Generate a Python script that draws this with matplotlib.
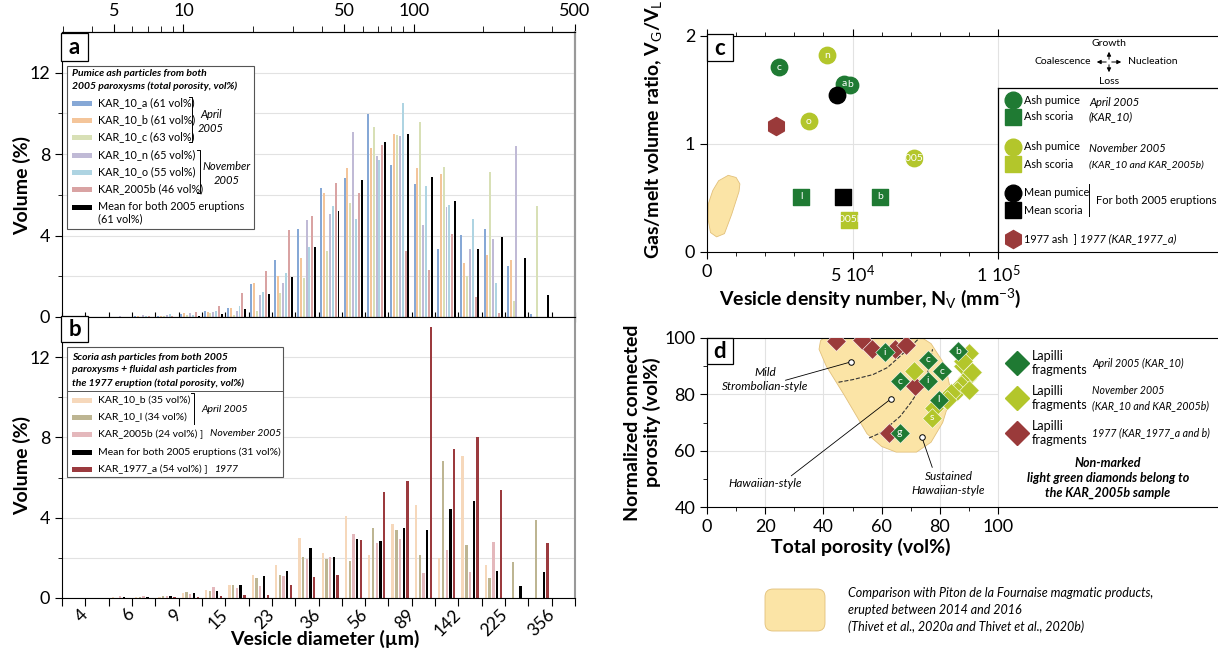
import numpy as np
import matplotlib.pyplot as plt
from matplotlib.patches import Rectangle, Polygon, FancyBboxPatch, FancyArrowPatch
from matplotlib.lines import Line2D
from matplotlib.transforms import Affine2D
from matplotlib.ticker import FixedLocator, NullFormatter

plt.rcParams['font.family'] = ['Lato', 'DejaVu Sans']
plt.rcParams['mathtext.fontset'] = 'custom'
plt.rcParams['mathtext.rm'] = 'Lato'
plt.rcParams['mathtext.it'] = 'Lato:italic'
plt.rcParams['mathtext.bf'] = 'Lato:bold'
plt.rcParams['xtick.major.size'] = 5
plt.rcParams['ytick.major.size'] = 5
plt.rcParams['xtick.minor.size'] = 3
plt.rcParams['ytick.minor.size'] = 3

# ---------------- data ----------------
n_bins = 21
diam_labels = ['4', '6', '9', '15', '23', '36', '56', '89', '142', '225', '356']
top_ticks = [5, 10, 50, 100, 500]
top_minor = [3, 4, 6, 7, 8, 9, 20, 30, 40, 60, 70, 80, 90, 200, 300, 400]

# panel a - pumice ash particles (volume %)
a_names = ['KAR_10_a (61 vol%)', 'KAR_10_b (61 vol%)', 'KAR_10_c (63 vol%)',
           'KAR_10_n (65 vol%)', 'KAR_10_o (55 vol%)', 'KAR_2005b (46 vol%)',
           'Mean for both 2005 eruptions']
kar10_a = [0, 0, 0.02, 0.03, 0.05, 0.15, 0.3, 0.45, 1.6, 2.8, 4.3, 6.35, 6.85, 9.95, 7.45, 6.55, 3.35, 4.05, 4.3, 2.5, 0.15]
kar10_b = [0, 0, 0.02, 0.03, 0.05, 0.2, 0.25, 0.45, 1.65, 2.0, 2.9, 6.1, 7.3, 8.3, 9.0, 7.3, 7.0, 2.65, 3.05, 2.8, 0]
kar10_c = [0, 0, 0, 0.02, 0.03, 0.1, 0.2, 0.1, 0.3, 1.2, 1.9, 3.25, 5.6, 9.35, 8.95, 9.6, 7.35, 2.0, 7.1, 0.8, 5.45]
kar10_n = [0, 0.02, 0.03, 0.08, 0.1, 0.2, 0.25, 0.3, 1.1, 1.65, 4.75, 5.05, 9.1, 7.9, 8.9, 4.5, 5.4, 3.35, 3.85, 8.4, 0]
kar10_o = [0, 0, 0.02, 0.03, 0.15, 0.1, 0.3, 0.55, 1.25, 2.15, 3.45, 5.45, 4.8, 7.7, 10.5, 6.45, 5.5, 4.8, 1.65, 0, 0]
kar2005b_p = [0, 0, 0, 0.03, 0.05, 0.25, 0.55, 1.2, 2.28, 4.25, 4.95, 6.6, 6.1, 8.45, 3.25, 2.3, 4.1, 1.0, 0.2, 0, 0]
mean_pum = [0, 0, 0, 0, 0.02, 0.05, 0.15, 0.4, 1.15, 1.95, 3.45, 5.2, 6.75, 8.6, 9.0, 6.9, 5.7, 3.35, 3.95, 2.9, 1.1]
a_values = [kar10_a, kar10_b, kar10_c, kar10_n, kar10_o, kar2005b_p, mean_pum]
a_colors = ['#86a8d6', '#f4c59a', '#d8e0b6', '#c0bad6', '#aed4e2', '#d9a3a3', '#000000']

# panel b - scoria / fluidal ash particles (volume %)
b_names = ['KAR_10_b (35 vol%)', 'KAR_10_l (34 vol%)', 'KAR_2005b (24 vol%) ]',
           'Mean for both 2005 eruptions (31 vol%)', 'KAR_1977_a (54 vol%) ]']
kar10_b_s = [0, 0.02, 0.03, 0.05, 0.05, 0.25, 0.4, 0.63, 1.15, 1.65, 3.0, 2.25, 4.1, 2.15, 3.7, 4.65, 2.0, 7.05, 1.65, 0, 0]
kar10_l = [0, 0, 0.02, 0.05, 0.1, 0.28, 0.33, 0.63, 1.0, 1.15, 2.05, 1.95, 1.85, 3.5, 3.4, 2.15, 6.85, 2.65, 1.0, 1.8, 3.9]
kar2005b_s = [0, 0.02, 0.08, 0.08, 0.12, 0.2, 0.53, 0.48, 0.62, 1.08, 1.95, 2.05, 3.2, 2.75, 2.95, 1.25, 2.4, 1.3, 2.8, 0, 0]
mean_sco = [0, 0, 0.03, 0.05, 0.1, 0.25, 0.36, 0.65, 1.08, 1.35, 2.5, 2.05, 2.95, 2.85, 3.5, 3.4, 4.45, 4.85, 1.35, 0.6, 1.3]
kar1977_a = [0, 0, 0, 0.02, 0.05, 0.05, 0.1, 0.15, 0.15, 0.65, 1.05, 1.15, 2.9, 5.3, 5.85, 13.5, 7.4, 8.0, 5.4, 0, 2.75]
b_values = [kar10_b_s, kar10_l, kar2005b_s, mean_sco, kar1977_a]
b_colors = ['#f6d8bb', '#bdb592', '#e4b8bc', '#000000', '#9b3a3e']

# panel c - Nv vs Vg/Vl
c_pum_apr_x = [2.49e4, 4.93e4, 4.71e4]
c_pum_apr_y = [1.71, 1.55, 1.56]
c_pum_apr_lab = ['c', 'b', 'a']
c_sco_apr_x = [3.24e4, 5.96e4]
c_sco_apr_y = [0.51, 0.51]
c_sco_apr_lab = ['l', 'b']
c_pum_nov_x = [4.13e4, 3.49e4, 7.11e4]
c_pum_nov_y = [1.82, 1.21, 0.87]
c_pum_nov_lab = ['n', 'o', '2005b']
c_sco_nov_x = [4.87e4]
c_sco_nov_y = [0.30]
c_sco_nov_lab = ['2005b']
c_mean_pum_x, c_mean_pum_y = [4.47e4], [1.45]
c_mean_sco_x, c_mean_sco_y = [4.69e4], [0.51]
c_1977_x, c_1977_y = [2.37e4], [1.17]
pdf_c_x = [0.73e4, 1.0e4, 1.13e4, 1.1e4, 0.85e4, 0.6e4, 0.33e4, 0.12e4, 0.04e4, 0.05e4, 0.2e4, 0.4e4]
pdf_c_y = [0.71, 0.69, 0.63, 0.56, 0.35, 0.17, 0.14, 0.18, 0.30, 0.45, 0.57, 0.66]

# panel d - total porosity vs normalized connected porosity
d_apr_x = [61.1, 75.8, 80.9, 66.4, 75.8, 79.6, 86.3, 66.2]
d_apr_y = [95.0, 92.3, 88.2, 84.6, 84.9, 78.1, 95.3, 66.3]
d_apr_lab = ['i', 'c', 'c', 'c', 'i', 'l', 'b', 'g']
d_nov_x = [71.1, 89.9, 87.9, 89.3, 87.2, 85.9, 89.9, 83.9, 82.6, 77.9, 91.0, 88.0, 77.4]
d_nov_y = [88.2, 94.7, 89.9, 85.8, 83.4, 81.1, 81.7, 80.5, 78.1, 75.1, 88.0, 92.0, 71.6]
d_nov_lab = [''] * 12 + ['s']
d_1977_x = [44.3, 53.3, 56.6, 64.7, 68.5, 71.5, 62.4]
d_1977_y = [98.8, 99.2, 96.1, 96.1, 97.6, 82.8, 66.3]
pdf_d_x = [40, 74, 77, 82, 84, 81, 77, 72, 65, 60, 55, 47, 41, 38.5, 39]
pdf_d_y = [100, 100, 98, 90, 80, 70, 63, 59.5, 59.5, 61.5, 66, 80, 90, 96, 99]
dash1_x = [45.2, 50, 57, 62, 65, 69, 73]
dash1_y = [84.3, 85.2, 87, 89.5, 92.3, 96, 100]
dash2_x = [55.7, 60, 66.4, 70, 73, 75.5, 76.5, 77.5]
dash2_y = [64.5, 66.5, 72.2, 77, 81.7, 86, 91, 96]

dark_green = '#1f7a33'
yel_green = '#b3c62b'
red_1977 = '#9a3a3a'
pdf_fill = '#fbe4a6'
pdf_edge = '#e2c07a'
grid_col = '#e2e2e2'

W, H = 1218, 660
fig = plt.figure(figsize=(W / 100, H / 100), dpi=100)
# transform in reference pixels (x right, y down)
REF = Affine2D().scale(1 / W, -1 / H).translate(0, 1) + fig.transFigure


def px_axes(l, t, r, b):
    return fig.add_axes([l / W, 1 - b / H, (r - l) / W, (b - t) / H])


def panel_tag(l, t, r, b, s):
    fig.patches.append(Rectangle((l, t), r - l, b - t, transform=REF, fc='white',
                                 ec='black', lw=0.9, zorder=10))
    fig.text((l + r) / 2, (t + b) / 2 + 1, s, transform=REF, ha='center', va='center',
             fontsize=16, fontweight='bold', zorder=11)


def ref_text(x, y, s, **kw):
    kw.setdefault('fontsize', 7.5)
    kw.setdefault('va', 'center')
    fig.text(x, y, s, transform=REF, **kw)


def ref_line(xs, ys, **kw):
    kw.setdefault('color', 'black')
    kw.setdefault('lw', 0.7)
    fig.lines.append(Line2D(xs, ys, transform=REF, **kw))


# ---------------- panel a ----------------
axa = px_axes(62, 32, 575, 317)
pos = np.arange(n_bins)
for i, (vals, col) in enumerate(zip(a_values, a_colors)):
    axa.bar(pos + 0.12 + i * 0.123, vals, width=0.085, color=col, zorder=2)
axa.set_xlim(0, 22)
axa.set_ylim(0, 14)
axa.set_yticks([0, 4, 8, 12])
axa.set_yticks([2, 6, 10], minor=True)
axa.yaxis.grid(True, which='both', color=grid_col, lw=0.8)
axa.set_axisbelow(True)
axa.set_xticks(np.arange(23))
axa.set_xticklabels([])
axa.tick_params(axis='x', direction='inout', length=7)
axa.tick_params(axis='y', labelsize=13)
axa.set_ylabel('Volume (%)', fontsize=14, fontweight='bold')
axa.yaxis.set_label_coords(-0.06, 0.46)
axa.spines['right'].set_color('#999999')
axa.spines['right'].set_linewidth(1.5)

axt = axa.twiny()
axt.set_xscale('log')
axt.set_xlim(2.97, 502)
axt.xaxis.set_major_locator(FixedLocator(top_ticks))
axt.set_xticklabels([str(t) for t in top_ticks])
axt.xaxis.set_minor_locator(FixedLocator(top_minor))
axt.xaxis.set_minor_formatter(NullFormatter())
axt.tick_params(axis='x', which='major', labelsize=13, length=6)
axt.tick_params(axis='x', which='minor', length=4)
for s in ['left', 'bottom']:
    axt.spines[s].set_visible(False)
axt.spines['right'].set_color('#999999')
axt.spines['right'].set_linewidth(1.5)

# legend a
fig.patches.append(Rectangle((67, 66), 187, 163, transform=REF, fc='white', ec='#555555', lw=0.8, zorder=5))
ref_text(72, 73, 'Pumice ash particles from both', style='italic', fontweight='bold', zorder=6)
ref_text(72, 86, '2005 paroxysms (total porosity, vol%)', style='italic', fontweight='bold', zorder=6)
a_leg_y = [103, 120, 137, 155, 172, 189, 207]
for yy, name, col in zip(a_leg_y, a_names, a_colors):
    fig.patches.append(Rectangle((72, yy - 2.5), 20, 5, transform=REF, fc=col, ec='none', zorder=6))
    ref_text(98, yy, name, fontsize=7.8, zorder=6)
ref_text(98, 219, '(61 vol%)', fontsize=7.8, zorder=6)
ref_line([189, 192, 192, 189], [97, 97, 142, 142], zorder=6)
ref_text(211, 114, 'April', style='italic', ha='center', fontsize=8, zorder=6)
ref_text(211, 128, '2005', style='italic', ha='center', fontsize=8, zorder=6)
ref_line([197, 200, 200, 197], [150, 150, 193, 193], zorder=6)
ref_text(227, 166, 'November', style='italic', ha='center', fontsize=8, zorder=6)
ref_text(227, 180, '2005', style='italic', ha='center', fontsize=8, zorder=6)
panel_tag(61, 33, 88, 61, 'a')

# ---------------- panel b ----------------
axb = px_axes(62, 317, 575, 598)
for i, (vals, col) in enumerate(zip(b_values, b_colors)):
    axb.bar(pos + 0.18 + i * 0.16, vals, width=0.1, color=col, zorder=2)
axb.set_xlim(0, 22)
axb.set_ylim(0, 14)
axb.set_yticks([0, 4, 8, 12])
axb.set_yticks([2, 6, 10], minor=True)
axb.yaxis.grid(True, which='both', color=grid_col, lw=0.8)
axb.set_axisbelow(True)
b_tick_labels = [''] * 23
b_tick_labels[1::2] = diam_labels
axb.set_xticks(np.arange(23))
axb.set_xticklabels(b_tick_labels, rotation=45, ha='right', va='center', rotation_mode='anchor')
axb.tick_params(axis='x', labelsize=12.5, length=6, pad=4)
axb.tick_params(axis='y', labelsize=13)
axb.set_ylabel('Volume (%)', fontsize=14, fontweight='bold')
axb.yaxis.set_label_coords(-0.06, 0.47)
axb.set_xlabel('Vesicle diameter (\u00b5m)', fontsize=14, fontweight='bold')
axb.xaxis.set_label_coords(0.513, -0.115)
axb.spines['right'].set_color('#999999')
axb.spines['right'].set_linewidth(1.5)

# legend b
fig.patches.append(Rectangle((67, 347), 216, 130, transform=REF, fc='white', ec='#555555', lw=0.8, zorder=5))
for yy, s in zip([357, 370, 383], ['Scoria ash particles from both 2005',
                                   'paroxysms + fluidal ash particles from',
                                   'the 1977 eruption (total porosity, vol%)']):
    ref_text(72, yy, s, style='italic', fontweight='bold', zorder=6)
ref_line([67, 283], [391, 391], color='#555555', zorder=6)
b_leg_y = [400, 417, 434, 452, 469]
for yy, name, col in zip(b_leg_y, b_names, b_colors):
    fig.patches.append(Rectangle((72, yy - 2.5), 20, 5, transform=REF, fc=col, ec='none', zorder=6))
    ref_text(98, yy, name, zorder=6)
ref_line([191, 194, 194], [393, 393, 424], zorder=6)
ref_text(201, 409, 'April 2005', style='italic', zorder=6)
ref_text(210, 434, 'November 2005', style='italic', zorder=6)
ref_text(215, 469, '1977', style='italic', zorder=6)
panel_tag(61, 316, 88, 342, 'b')

# ---------------- panel c ----------------
axc = px_axes(707, 36, 1218, 252)
axc.set_xlim(0, 1.756e5)
axc.set_ylim(0, 2)
axc.axvline(5e4, color=grid_col, lw=0.8, zorder=0)
axc.axvline(1e5, color=grid_col, lw=0.8, zorder=0)
axc.hlines(1, 0, 1e5, color=grid_col, lw=0.8, zorder=0)
axc.add_patch(Polygon(np.column_stack([pdf_c_x, pdf_c_y]), closed=True, fc=pdf_fill,
                      ec=pdf_edge, lw=0.6, joinstyle='round', zorder=1))
axc.scatter(c_pum_apr_x, c_pum_apr_y, s=140, marker='o', color=dark_green, zorder=3)
axc.scatter(c_sco_apr_x, c_sco_apr_y, s=130, marker='s', color=dark_green, zorder=3)
axc.scatter(c_pum_nov_x, c_pum_nov_y, s=140, marker='o', color=yel_green, zorder=3)
axc.scatter(c_sco_nov_x, c_sco_nov_y, s=130, marker='s', color=yel_green, zorder=3)
axc.scatter(c_mean_pum_x, c_mean_pum_y, s=140, marker='o', color='black', zorder=3)
axc.scatter(c_mean_sco_x, c_mean_sco_y, s=130, marker='s', color='black', zorder=3)
axc.scatter(c_1977_x, c_1977_y, s=170, marker='h', color=red_1977, zorder=3)
for xs, ys, labs in [(c_pum_apr_x, c_pum_apr_y, c_pum_apr_lab), (c_sco_apr_x, c_sco_apr_y, c_sco_apr_lab),
                     (c_pum_nov_x, c_pum_nov_y, c_pum_nov_lab), (c_sco_nov_x, c_sco_nov_y, c_sco_nov_lab)]:
    for x, y, t in zip(xs, ys, labs):
        axc.text(x, y, t, color='white', ha='center', va='center', fontsize=7.5, zorder=4)
axc.set_xticks([0, 5e4, 1e5])
axc.set_xticklabels(['0', '5 10$^4$', '1 10$^5$'])
axc.xaxis.set_minor_locator(FixedLocator(np.arange(1e4, 1e5, 1e4)))
axc.set_yticks([0, 1, 2])
axc.tick_params(axis='x', which='both', top=True)
axc.tick_params(labelsize=13)
axc.spines['right'].set_visible(False)
axc.set_ylabel('Gas/melt volume ratio, V$_\\mathrm{G}$/V$_\\mathrm{L}$', fontsize=14, fontweight='bold')
axc.yaxis.set_label_coords(-0.085, 0.57)
axc.set_xlabel('Vesicle density number, N$_\\mathrm{V}$ (mm$^{-3}$)', fontsize=14, fontweight='bold')
axc.xaxis.set_label_coords(0.32, -0.16)
panel_tag(707, 34, 733, 61, 'c')

# compass
for dx, dy in [(-15, 0), (15, 0), (0, -13), (0, 13)]:
    fig.patches.append(FancyArrowPatch((1109, 62), (1109 + dx, 62 + dy), transform=REF,
                                       arrowstyle='-|>', mutation_scale=6, lw=0.7, color='black'))
ref_text(1109, 43, 'Growth', ha='center')
ref_text(1109, 82, 'Loss', ha='center')
ref_text(1091, 62, 'Coalescence', ha='right')
ref_text(1128, 62, 'Nucleation', ha='left')

# legend c
ref_line([998, 1218], [88, 88], lw=0.9)
ref_line([998, 998], [88, 252], lw=0.9)
c_leg = [(100, 'o', dark_green, 'Ash pumice'), (117, 's', dark_green, 'Ash scoria'),
         (147, 'o', yel_green, 'Ash pumice'), (164, 's', yel_green, 'Ash scoria'),
         (193, 'o', 'black', 'Mean pumice'), (210, 's', 'black', 'Mean scoria'),
         (239, 'h', red_1977, '1977 ash  ]')]
for yy, mk, col, s in c_leg:
    ref_line([1013], [yy], marker=mk, ms=12 if mk != 'h' else 13, color=col, lw=0)
    ref_text(1024, yy, s, fontsize=7.8)
ref_text(1089, 103, 'April 2005', style='italic', fontsize=8)
ref_text(1089, 117, '(KAR_10)', style='italic', fontsize=8)
ref_text(1089, 149, 'November 2005', style='italic', fontsize=8)
ref_text(1089, 165, '(KAR_10 and KAR_2005b)', style='italic')
ref_line([1089, 1089], [184, 216])
ref_text(1096, 201, 'For both 2005 eruptions', fontsize=8)
ref_text(1080, 239, '1977 (KAR_1977_a)', style='italic', fontsize=8)

# ---------------- panel d ----------------
axd = px_axes(707, 338, 1218, 507)
axd.set_xlim(0, 175.6)
axd.set_ylim(40, 100)
axd.vlines([20, 40, 60, 80, 100], 40, 100, color=grid_col, lw=0.8, zorder=0)
axd.hlines([60, 80], 0, 100, color=grid_col, lw=0.8, zorder=0)
axd.add_patch(Polygon(np.column_stack([pdf_d_x, pdf_d_y]), closed=True, fc=pdf_fill,
                      ec=pdf_edge, lw=0.6, joinstyle='round', zorder=1))
axd.plot(dash1_x, dash1_y, ls='--', color='#333333', lw=0.8, zorder=2)
axd.plot(dash2_x, dash2_y, ls='--', color='#333333', lw=0.8, zorder=2)
axd.scatter(d_1977_x, d_1977_y, s=100, marker='D', color=red_1977, edgecolor='white', lw=0.4, zorder=3)
axd.scatter(d_nov_x, d_nov_y, s=100, marker='D', color=yel_green, edgecolor='white', lw=0.4, zorder=3)
axd.scatter(d_apr_x, d_apr_y, s=100, marker='D', color=dark_green, edgecolor='white', lw=0.4, zorder=4)
for x, y, t in zip(d_apr_x + d_nov_x, d_apr_y + d_nov_y, d_apr_lab + d_nov_lab):
    axd.text(x, y, t, color='white', ha='center', va='center', fontsize=7.5, zorder=5)
# style annotations
axd.plot([27, 49.4], [85, 91.5], color='black', lw=0.6, zorder=5)
axd.plot([29, 63.1], [51.1, 78.3], color='black', lw=0.6, zorder=5)
axd.plot([77.4, 73.8], [54.1, 64.9], color='black', lw=0.6, zorder=5)
axd.plot([49.4, 63.1, 73.8], [91.5, 78.3, 64.9], 'o', mfc='white', mec='black', ms=4, mew=0.7, zorder=6)
axd.text(20, 85.3, 'Mild\nStrombolian-style', ha='center', va='center', fontsize=8.5,
         style='italic', linespacing=1.4)
axd.text(20, 48.5, 'Hawaiian-style', ha='center', va='center', fontsize=8.5, style='italic')
axd.text(83, 48.3, 'Sustained\nHawaiian-style', ha='center', va='center', fontsize=8.5,
         style='italic', linespacing=1.3)
axd.set_xticks([0, 20, 40, 60, 80, 100])
axd.xaxis.set_minor_locator(FixedLocator([10, 30, 50, 70, 90]))
axd.set_yticks([40, 60, 80, 100])
axd.yaxis.set_minor_locator(FixedLocator([50, 70, 90]))
axd.tick_params(labelsize=13)
axd.spines['right'].set_visible(False)
axd.set_ylabel('Normalized connected\nporosity (vol%)', fontsize=14, fontweight='bold', linespacing=1.1)
axd.yaxis.set_label_coords(-0.09, 0.5)
axd.set_xlabel('Total porosity (vol%)', fontsize=14, fontweight='bold')
axd.xaxis.set_label_coords(0.30, -0.18)
panel_tag(707, 338, 733, 364, 'd')

# legend d
d_leg = [(363, dark_green, 'April 2005 (KAR_10)'),
         (398, yel_green, 'November 2005\n(KAR_10 and KAR_2005b)'),
         (433, red_1977, '1977 (KAR_1977_a and b)')]
for yy, col, s in d_leg:
    ref_line([1017], [yy], marker='D', ms=12, color=col, lw=0)
    ref_text(1032, yy, 'Lapilli\nfragments', fontsize=9, linespacing=1.25)
    ref_text(1092, yy, s, style='italic', fontsize=7.6, linespacing=1.5)
ref_text(1108, 478, 'Non-marked\nlight green diamonds belong to\nthe KAR_2005b sample', ha='center',
         style='italic', fontweight='bold', fontsize=9, linespacing=1.3)

# bottom legend: Piton de la Fournaise
fig.patches.append(FancyBboxPatch((767, 591), 56, 38, boxstyle='round,pad=2,rounding_size=8',
                                  transform=REF, fc=pdf_fill, ec=pdf_edge, lw=0.6))
ref_text(848, 593, 'Comparison with Piton de la Fournaise magmatic products,', style='italic', fontsize=9)
ref_text(848, 610, 'erupted between 2014 and 2016', style='italic', fontsize=9)
ref_text(848, 627, '(Thivet et al., 2020a and Thivet et al., 2020b)', style='italic', fontsize=9)

fig.savefig('out.png', dpi=100)
